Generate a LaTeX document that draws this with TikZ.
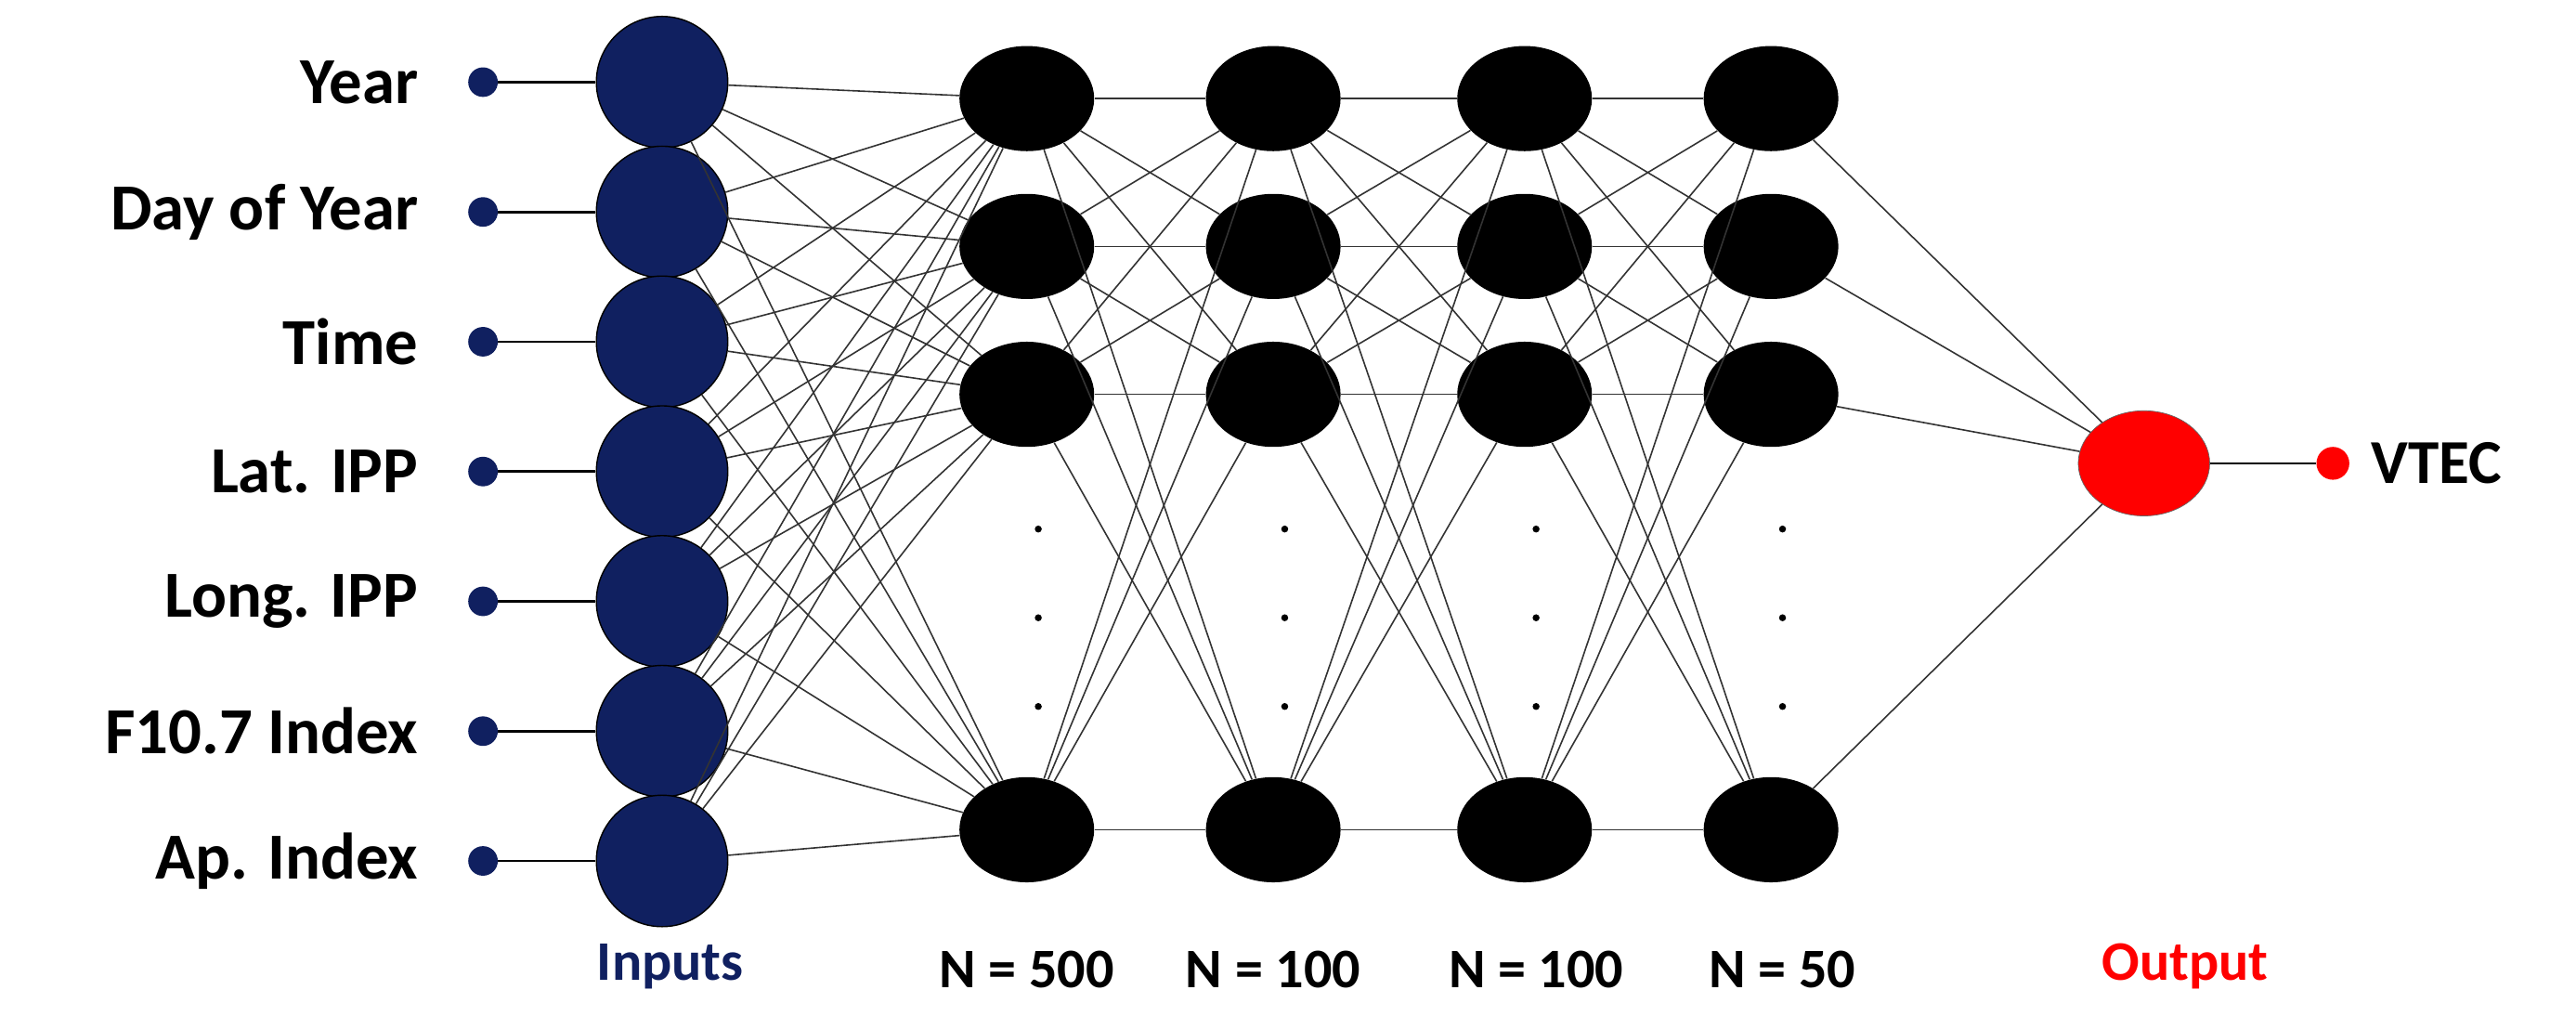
\documentclass[tikz,border=0pt]{standalone}
\usepackage{fontspec}
\setmainfont{Carlito}
\usetikzlibrary{shapes.geometric}
\definecolor{navy}{RGB}{16,32,96}
\begin{document}
\begin{tikzpicture}[x=1pt,y=-1pt,
  inp/.style={circle,fill=navy,draw=black,line width=0.8pt,minimum size=80pt,inner sep=0},
  sdot/.style={circle,fill=navy,minimum size=18pt,inner sep=0},
  hid/.style={ellipse,fill=black,minimum width=82pt,minimum height=64pt,inner sep=0},
  edge/.style={line width=0.9pt,draw=black!80},
  lab/.style={font=\fontsize{40}{48}\selectfont\bfseries,anchor=east},
  bot/.style={font=\fontsize{34}{40}\selectfont\bfseries}]
\useasboundingbox (0,0) rectangle (1568,626);
\foreach \t [count=\i] in {Year,Day of Year,Time,Lat. IPP,Long. IPP,F10.7 Index,Ap. Index}{
  \pgfmathsetmacro{\yy}{50+(\i-1)*79}
  \node[inp] (i\i) at (403,\yy) {};
  \node[sdot] (d\i) at (294,\yy) {};
  \draw[line width=1.5pt] (d\i) -- (i\i);
  \node[lab] (t\i) at (258,\yy) {\t};
}
\foreach \L/\x in {1/625,2/775,3/928,4/1078}{
  \foreach \j/\y in {1/60,2/150,3/240,4/505}{
    \node[hid] (h\L\j) at (\x,\y) {};
  }
  \foreach \k/\y in {a/322,b/376,c/430}{
    \node[circle,fill=black,inner sep=1.5pt] (p\L\k) at (\x+7,\y) {};
  }
}
\node[ellipse,fill=red,draw=black!60,minimum width=80pt,minimum height=64pt] (o) at (1305,282) {};
\node[circle,fill=red,minimum size=20pt,inner sep=0] (od) at (1420,282) {};
\draw[line width=1.5pt] (o) -- (od);
\node[font=\fontsize{38}{44}\selectfont\bfseries,anchor=west] (vt) at (1440,282) {VTEC};
\foreach \i in {1,...,7}{\foreach \j in {1,...,4}{\draw[edge] (i\i) -- (h1\j);}}
\foreach \L/\M in {1/2,2/3,3/4}{\foreach \i in {1,...,4}{\foreach \j in {1,...,4}{\draw[edge] (h\L\i) -- (h\M\j);}}}
\foreach \j in {1,...,4}{\draw[edge] (h4\j) -- (o);}
\node[bot,text=navy] (b0) at (408,588) {Inputs};
\node[bot] (b1) at (625,590) {N = 500};
\node[bot] (b2) at (775,590) {N = 100};
\node[bot] (b3) at (935,590) {N = 100};
\node[bot] (b4) at (1085,590) {N = 50};
\node[bot,text=red] (b5) at (1330,588) {Output};
\end{tikzpicture}
\end{document}
